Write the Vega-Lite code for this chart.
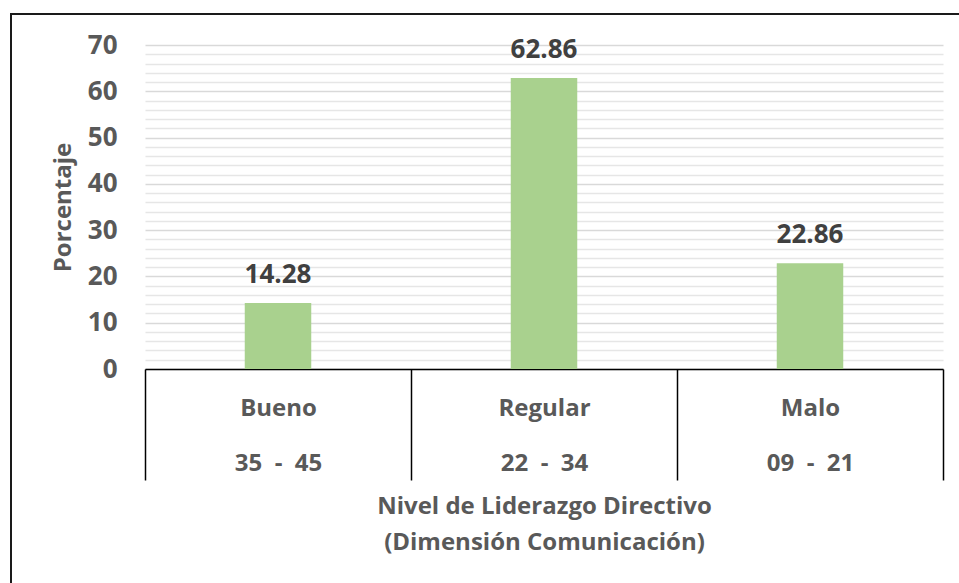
{
  "$schema": "https://vega.github.io/schema/vega-lite/v6.json",
  "autosize": {"type": "none"},
  "padding": {"left": 11, "top": 14, "right": 0, "bottom": 0},
  "width": 960,
  "height": 600,
  "background": "white",
  "config": {
    "view": {"stroke": "#1a1a1a", "strokeWidth": 2},
    "font": "Open Sans"
  },
  "data": {
    "values": [
      {"nivel": "Bueno|35\u00a0\u00a0-\u00a0\u00a045", "porcentaje": 14.28},
      {"nivel": "Regular|22\u00a0\u00a0-\u00a0\u00a034", "porcentaje": 62.86},
      {"nivel": "Malo|09\u00a0\u00a0-\u00a0\u00a021", "porcentaje": 22.86}
    ]
  },
  "encoding": {
    "x": {
      "field": "nivel",
      "type": "nominal",
      "sort": null,
      "scale": {"range": [134, 932], "paddingInner": 0, "paddingOuter": 0},
      "axis": {
        "orient": "bottom",
        "offset": -245,
        "labelAngle": 0,
        "grid": false,
        "domainColor": "#000000",
        "domainWidth": 1.5,
        "tickColor": "#000000",
        "tickWidth": 1.5,
        "tickSize": 111,
        "tickBand": "extent",
        "labelPadding": -84,
        "labelExpr": "datum.value ? split(datum.value, '|') : ''",
        "labelLineHeight": 55,
        "labelFontSize": 24,
        "labelFont": "Open Sans",
        "labelFontWeight": "bold",
        "labelColor": "#595959",
        "title": ["Nivel de Liderazgo Directivo", "(Dimensión Comunicación)"],
        "titleFont": "Open Sans",
        "titleFontSize": 24,
        "titleFontWeight": "bold",
        "titleColor": "#595959",
        "titleLineHeight": 36,
        "titlePadding": 14
      }
    }
  },
  "layer": [
    {
      "mark": {"type": "bar", "color": "#a9d18e", "width": {"band": 0.25}},
      "encoding": {
        "y": {
          "field": "porcentaje",
          "type": "quantitative",
          "scale": {"domain": [0, 70], "range": [355, 31], "nice": false},
          "axis": {
            "orient": "left",
            "offset": -134,
            "domain": false,
            "ticks": false,
            "values": [0, 10, 20, 30, 40, 50, 60, 70],
            "gridColor": "#d9d9d9",
            "gridWidth": 1.5,
            "labelFont": "Open Sans",
            "labelFontSize": 26,
            "labelFontWeight": "bold",
            "labelColor": "#595959",
            "labelPadding": 28,
            "title": "Porcentaje",
            "titleFont": "Open Sans",
            "titleFontSize": 24,
            "titleFontWeight": "bold",
            "titleColor": "#595959",
            "titlePadding": 12
          }
        }
      }
    },
    {
      "mark": {
        "type": "text",
        "baseline": "alphabetic",
        "dy": -20,
        "font": "Open Sans",
        "fontSize": 26,
        "fontWeight": "bold",
        "color": "#404040"
      },
      "encoding": {
        "y": {
          "field": "porcentaje",
          "type": "quantitative",
          "axis": {
            "orient": "left",
            "offset": -134,
            "domain": false,
            "ticks": false,
            "labels": false,
            "title": null,
            "grid": true,
            "values": [2, 4, 6, 8, 12, 14, 16, 18, 22, 24, 26, 28, 32, 34, 36, 38, 42, 44, 46, 48, 52, 54, 56, 58, 62, 64, 66, 68],
            "gridColor": "#e6e6e6",
            "gridWidth": 1.5
          }
        },
        "text": {"field": "porcentaje", "type": "quantitative", "format": ".2f"}
      }
    }
  ],
  "resolve": {"axis": {"y": "independent"}}
}
